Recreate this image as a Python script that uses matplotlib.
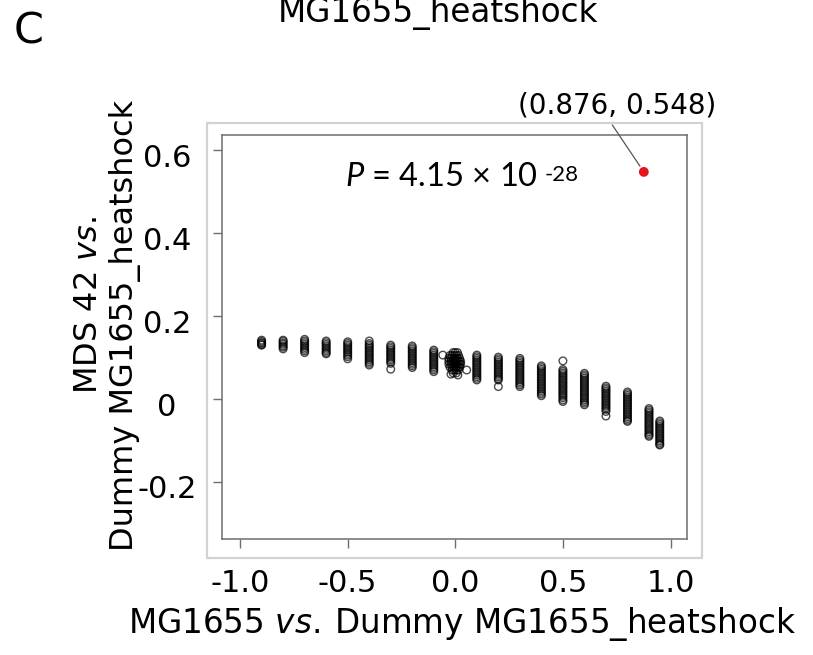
import matplotlib
matplotlib.use("Agg")
import matplotlib.pyplot as plt
import matplotlib.transforms as mtransforms
from matplotlib.patches import Rectangle
import numpy as np

plt.rcParams['font.family'] = ['DejaVu Sans']
plt.rcParams['mathtext.fontset'] = 'custom'
plt.rcParams['mathtext.rm'] = 'Lato'
plt.rcParams['mathtext.it'] = 'Lato:italic'

# ---------------- data ----------------
col_x = [-0.9, -0.8, -0.7, -0.6, -0.5, -0.4, -0.3, -0.2, -0.1,
         0.1, 0.2, 0.3, 0.4, 0.5, 0.6, 0.7, 0.8, 0.9, 0.95]

col_m09 = [0.142, 0.139, 0.136, 0.134, 0.131, 0.130]
col_m08 = [0.142, 0.139, 0.135, 0.132, 0.128, 0.125, 0.121]
col_m07 = [0.144, 0.140, 0.136, 0.132, 0.128, 0.124, 0.120, 0.116, 0.112]
col_m06 = [0.140, 0.136, 0.132, 0.128, 0.124, 0.120, 0.116, 0.112, 0.109]
col_m05 = [0.138, 0.134, 0.130, 0.126, 0.122, 0.118, 0.114, 0.110, 0.106, 0.102, 0.097]
col_m04 = [0.140, 0.134, 0.130, 0.126, 0.122, 0.118, 0.114, 0.110, 0.106, 0.102, 0.098, 0.094, 0.090, 0.086, 0.082]
col_m03 = [0.130, 0.126, 0.122, 0.118, 0.114, 0.110, 0.106, 0.102, 0.098, 0.094, 0.090, 0.086, 0.072]
col_m02 = [0.128, 0.124, 0.120, 0.116, 0.112, 0.108, 0.104, 0.100, 0.096, 0.092, 0.088, 0.084, 0.080, 0.076]
col_m01 = [0.118, 0.114, 0.110, 0.106, 0.102, 0.098, 0.094, 0.090, 0.086, 0.082, 0.078, 0.074, 0.070, 0.066]
col_p01 = [0.106, 0.102, 0.098, 0.094, 0.090, 0.086, 0.082, 0.078, 0.074, 0.070, 0.066, 0.062, 0.058, 0.054, 0.050, 0.046]
col_p02 = [0.101, 0.097, 0.093, 0.089, 0.085, 0.081, 0.077, 0.073, 0.069, 0.065, 0.061, 0.057, 0.053, 0.049, 0.046, 0.030]
col_p03 = [0.098, 0.094, 0.090, 0.086, 0.082, 0.078, 0.074, 0.070, 0.066, 0.062, 0.058, 0.054, 0.050, 0.046, 0.042, 0.038, 0.034, 0.030]
col_p04 = [0.080, 0.076, 0.072, 0.068, 0.064, 0.060, 0.056, 0.052, 0.048, 0.044, 0.040, 0.036, 0.032, 0.028, 0.024, 0.020, 0.016, 0.012, 0.008]
col_p05 = [0.092, 0.071, 0.067, 0.063, 0.059, 0.055, 0.051, 0.047, 0.043, 0.039, 0.035, 0.031, 0.027, 0.023, 0.019, 0.015, 0.011, 0.007, 0.003, -0.002, -0.006]
col_p06 = [0.062, 0.058, 0.054, 0.050, 0.046, 0.042, 0.038, 0.034, 0.030, 0.026, 0.022, 0.018, 0.014, 0.010, 0.006, 0.002, -0.002, -0.006, -0.010, -0.014]
col_p07 = [0.031, 0.027, 0.023, 0.019, 0.015, 0.011, 0.007, 0.003, -0.001, -0.005, -0.009, -0.013, -0.017, -0.021, -0.025, -0.030, -0.041]
col_p08 = [0.017, 0.013, 0.009, 0.005, 0.001, -0.003, -0.007, -0.011, -0.015, -0.019, -0.023, -0.027, -0.031, -0.035, -0.039, -0.043, -0.047, -0.051, -0.054]
col_p09 = [-0.023, -0.027, -0.031, -0.035, -0.039, -0.043, -0.047, -0.051, -0.055, -0.059, -0.063, -0.067, -0.071, -0.075, -0.079, -0.083, -0.087, -0.090]
col_p095 = [-0.053, -0.057, -0.061, -0.065, -0.069, -0.073, -0.077, -0.081, -0.085, -0.089, -0.093, -0.097, -0.101, -0.105, -0.109, -0.111]

columns = [col_m09, col_m08, col_m07, col_m06, col_m05, col_m04, col_m03, col_m02, col_m01,
           col_p01, col_p02, col_p03, col_p04, col_p05, col_p06, col_p07, col_p08, col_p09, col_p095]

# cluster of points around x = 0
cluster_x = [-0.01, 0.0, 0.01,
             -0.025, -0.015, -0.005, 0.005, 0.015,
             -0.03, -0.02, -0.01, 0.0, 0.01, 0.02,
             -0.03, -0.02, -0.01, 0.0, 0.01, 0.02, 0.025,
             -0.03, -0.02, -0.01, 0.0, 0.01, 0.02, 0.025,
             -0.025, -0.015, -0.005, 0.005, 0.015, 0.02,
             -0.015, -0.005, 0.005, 0.015,
             -0.01, 0.005,
             -0.058, 0.053, -0.02, 0.012]
cluster_y = [0.112, 0.112, 0.112,
             0.105, 0.105, 0.105, 0.105, 0.105,
             0.098, 0.098, 0.098, 0.098, 0.098, 0.098,
             0.091, 0.091, 0.091, 0.091, 0.091, 0.091, 0.091,
             0.084, 0.084, 0.084, 0.084, 0.084, 0.084, 0.084,
             0.077, 0.077, 0.077, 0.077, 0.077, 0.077,
             0.070, 0.070, 0.070, 0.070,
             0.063, 0.063,
             0.106, 0.070, 0.060, 0.058]

highlight_x = 0.876
highlight_y = 0.548
highlight_label = "(0.876, 0.548)"

x_ticks = [-1.0, -0.5, 0.0, 0.5, 1.0]
x_ticklabels = ["-1.0", "-0.5", "0.0", "0.5", "1.0"]
y_ticks = [0.6, 0.4, 0.2, 0.0, -0.2]
y_ticklabels = ["0.6", "0.4", "0.2", "0", "-0.2"]

# ---------------- figure ----------------
W, H = 813, 655
fig = plt.figure(figsize=(W / 100, H / 100), dpi=100)
ax = fig.add_axes([222 / W, 1 - 538.7 / H, (687.3 - 222) / W, (538.7 - 135) / H])

# outer light frame
fig.patches.append(Rectangle((206.7 / W, 1 - 558.3 / H), 495 / W, 435.6 / H,
                             transform=fig.transFigure, fill=False,
                             edgecolor='#d2d2d2', linewidth=1.6, zorder=0))

xs = []
ys = []
for cx, cy in zip(col_x, columns):
    xs.extend([cx] * len(cy))
    ys.extend(cy)
xs.extend(cluster_x)
ys.extend(cluster_y)

ax.scatter(xs, ys, s=30, facecolors='none', edgecolors=(0, 0, 0, 0.7), linewidths=1.0, zorder=3)
ax.scatter([highlight_x], [highlight_y], s=50, color='#e8141c', edgecolors='none', zorder=4)

ax.set_xlim(-1.084, 1.078)
ax.set_ylim(-0.337, 0.637)

gray = '#6e6e6e'
for sp in ax.spines.values():
    sp.set_color(gray)
    sp.set_linewidth(1.1)

ax.set_xticks(x_ticks)
ax.set_xticklabels(x_ticklabels)
ax.set_yticks(y_ticks)
ax.set_yticklabels(y_ticklabels)
ax.tick_params(axis='both', direction='out', length=6.5, width=1.0, color=gray, labelsize=22)
ax.tick_params(axis='x', pad=15)
ax.tick_params(axis='y', pad=33)
offset = mtransforms.ScaledTranslation(0, -5 / 100, fig.dpi_scale_trans)
for lab in ax.get_yticklabels():
    lab.set_horizontalalignment('center')
    lab.set_transform(lab.get_transform() + offset)

# annotation of highlighted point
ax.annotate(highlight_label, xy=(highlight_x, highlight_y), xytext=(-27, 58),
            textcoords='offset pixels', ha='center', va='baseline', fontsize=20,
            annotation_clip=False,
            arrowprops=dict(arrowstyle='-', color='#555555', lw=0.9,
                            relpos=(0.46, 0.0), shrinkA=2, shrinkB=5))

# P value text
fig.text(345 / W, 1 - 186 / H, r"$\mathit{P}$ = 4.15 × 10", fontsize=23.5,
         family='Lato', math_fontfamily='custom', ha='left', va='baseline')
fig.text(545 / W, 1 - 165 / H, "-28", fontsize=16, family='Lato', ha='left', va='top')

# titles / labels
fig.text(437.5 / W, 1 - 21.7 / H, "MG1655_heatshock", fontsize=23.5, ha='center', va='baseline')
fig.text(14 / W, 1 - 43.3 / H, "C", fontsize=31, ha='left', va='baseline')
fig.text(462 / W, 1 - 633 / H, r"MG1655 $\mathit{vs.}$" + "\u2009Dummy MG1655_heatshock", fontsize=23.5,
         math_fontfamily='dejavusans', ha='center', va='baseline')
fig.text(97 / W, 1 - 305 / H, r"MDS 42 $\mathit{vs.}$", fontsize=23, rotation=90,
         rotation_mode='anchor', math_fontfamily='dejavusans', ha='center', va='baseline')
fig.text(133 / W, 1 - 325 / H, "Dummy MG1655_heatshock", fontsize=23, rotation=90,
         rotation_mode='anchor', ha='center', va='baseline')

fig.savefig("out.png", dpi=100)
